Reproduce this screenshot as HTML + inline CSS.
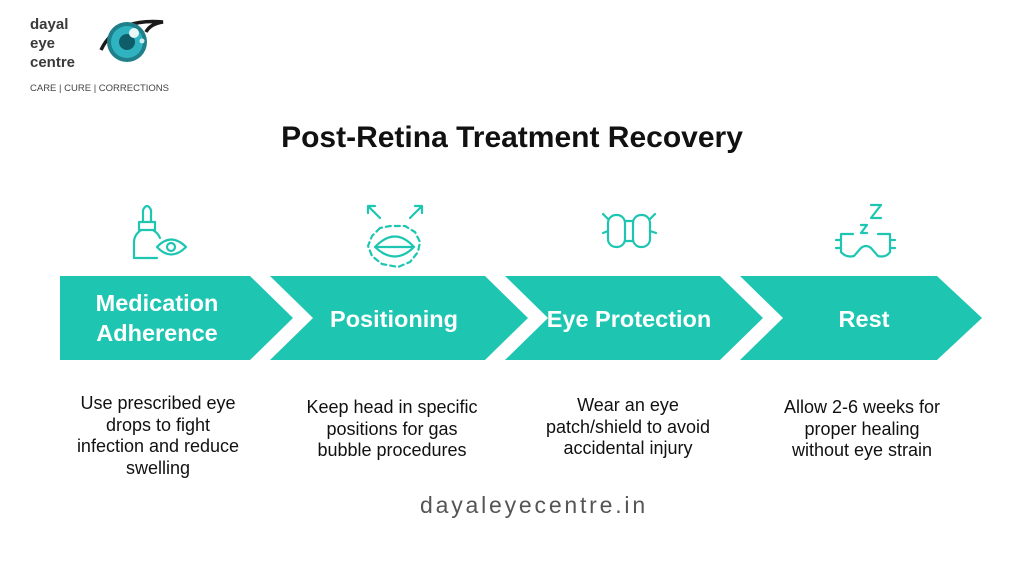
<!DOCTYPE html>
<html><head><meta charset="utf-8"><style>
html,body{margin:0;padding:0;background:#fff}
body{width:1024px;height:576px;overflow:hidden;position:relative;font-family:"Liberation Sans",Arial,sans-serif}
</style></head><body>
<svg width="1024" height="576" viewBox="0 0 1024 576" xmlns="http://www.w3.org/2000/svg" style="position:absolute;left:0;top:0">
<g font-family="Liberation Sans, sans-serif" font-weight="bold" fill="#3a3a3a" font-size="15">
<text x="30" y="29">dayal</text>
<text x="30" y="48">eye</text>
<text x="30" y="67">centre</text>
</g>
<text x="30" y="91" font-size="9.5" fill="#444" font-family="Liberation Sans, sans-serif">CARE  |  CURE  |  CORRECTIONS</text>
<path d="M101,50 Q116,18 163,22 Q150,24 146,32" fill="none" stroke="#1a1a1a" stroke-width="3.5"/>
<circle cx="127" cy="42" r="20" fill="#1f7f8a"/>
<circle cx="127" cy="42" r="16" fill="#2fb3c0"/>
<circle cx="127" cy="42" r="8" fill="#0f5d68"/>
<circle cx="134" cy="33" r="5" fill="#e8f7f8"/>
<circle cx="142" cy="41" r="2.5" fill="#cdeff2"/>
<text x="512" y="147" text-anchor="middle" font-size="30" font-weight="bold" fill="#111">Post-Retina Treatment Recovery</text>
<g fill="#1ec6b2">
<polygon points="60,276 250,276 293,318 250,360 60,360"/>
<polygon points="270,276 485,276 528,318 485,360 270,360 313,318"/>
<polygon points="505,276 720,276 763,318 720,360 505,360 548,318"/>
<polygon points="740,276 937,276 982,318 937,360 740,360 783,318"/>
</g>
<g fill="#fff" font-size="23.5" font-weight="bold" text-anchor="middle">
<text x="157" y="311">Medication</text>
<text x="157" y="341">Adherence</text>
<text x="394" y="327">Positioning</text>
<text x="629" y="327">Eye Protection</text>
<text x="864" y="327">Rest</text>
</g>
<g fill="#111" font-size="18" text-anchor="middle">
<text x="158" y="409">Use prescribed eye</text>
<text x="158" y="431">drops to fight</text>
<text x="158" y="452">infection and reduce</text>
<text x="158" y="474">swelling</text>
<text x="392" y="413">Keep head in specific</text>
<text x="392" y="435">positions for gas</text>
<text x="392" y="456">bubble procedures</text>
<text x="628" y="411">Wear an eye</text>
<text x="628" y="433">patch/shield to avoid</text>
<text x="628" y="454">accidental injury</text>
<text x="862" y="413">Allow 2-6 weeks for</text>
<text x="862" y="435">proper healing</text>
<text x="862" y="456">without eye strain</text>
</g>
<text x="534" y="513" text-anchor="middle" font-size="23" fill="#555" letter-spacing="2.8">dayaleyecentre.in</text>
<g fill="none" stroke="#1ec6b2" stroke-width="2.2" stroke-linecap="round" stroke-linejoin="round">
<path d="M143,222 L143,210 Q147,202 151,210 L151,222"/>
<rect x="139" y="222" width="16" height="8"/>
<path d="M141,230 Q134,235 134,242 L134,258 L157,258"/>
<path d="M153,230 Q158,233 160,238"/>
<path d="M157,247 Q171,232 186,247 Q171,262 157,247 Z"/>
<circle cx="171" cy="247" r="4"/>
<path d="M368,206 L380,218 M368,206 L368,213 M368,206 L375,206"/>
<path d="M422,206 L410,218 M422,206 L422,213 M422,206 L415,206"/>
<path d="M375,247 Q395,226 414,247 Q395,266 375,247 Z M375,247 L414,247"/>
<path d="M380,228 L372,236 L368,246 L372,256 L382,264 L398,267 L410,262 L418,252 L420,242 L415,232 L405,226 L390,226 Z" stroke-dasharray="5 4"/>
<path d="M603,214 L608,219 M655,214 L650,219"/>
<rect x="608" y="215" width="17" height="32" rx="8"/>
<rect x="633" y="215" width="17" height="32" rx="8"/>
<path d="M625,221 L633,221 M625,241 L633,241 M603,233 L608,231 M650,231 L656,233"/>
<path d="M871,205 L881,205 L871,218 L881,218"/>
<path d="M861,225 L867,225 L861,233 L867,233"/>
<path d="M853,234 L841,234 L841,252 Q846,258 854,256 L861,248 Q866,244 871,248 L878,256 Q886,258 890,252 L890,234 L878,234"/>
<path d="M836,240 L841,240 M836,248 L841,248 M890,240 L895,240 M890,248 L895,248"/>
</g>
</svg>
</body></html>
